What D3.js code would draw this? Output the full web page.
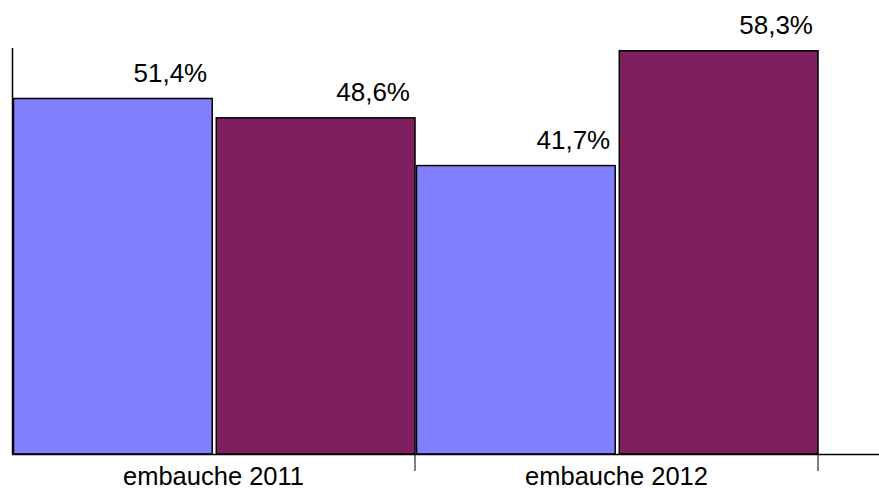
<!DOCTYPE html>
<html>
<head>
<meta charset="utf-8">
<script src="https://cdn.jsdelivr.net/npm/d3@7"></script>
<style>
html,body{margin:0;padding:0;background:#fff;}
svg{display:block;}
text{font-family:"Liberation Sans",Arial,sans-serif;fill:#000;}
</style>
</head>
<body>
<svg id="chart" width="879" height="491"></svg>
<script>
const categories = ["embauche 2011", "embauche 2012"];
const seriesNames = ["Série 1", "Série 2"];
const series1 = [51.4, 41.7];
const series2 = [48.6, 58.3];
const valueLabels1 = ["51,4%", "41,7%"];
const valueLabels2 = ["48,6%", "58,3%"];
const colors = ["#8080ff", "#7f1f5f"];

const W = 879, H = 491;
const svg = d3.select("#chart");

const x = d3.scaleBand().domain(categories).range([12, 818]).padding(0);
const xi = d3.scaleBand().domain(seriesNames).range([1.5, x.bandwidth()]).paddingInner(0.02).paddingOuter(0);
const y = d3.scaleLinear().domain([0, 58.7]).range([454, 48]);

const rows = categories.map((c, i) => ({
  cat: c,
  vals: [
    {s: seriesNames[0], v: series1[i], lab: valueLabels1[i], col: colors[0]},
    {s: seriesNames[1], v: series2[i], lab: valueLabels2[i], col: colors[1]}
  ]
}));

const g = svg.selectAll("g.cat").data(rows).enter().append("g")
  .attr("class", "cat")
  .attr("transform", d => `translate(${x(d.cat)},0)`);

g.selectAll("rect").data(d => d.vals).enter().append("rect")
  .attr("x", d => xi(d.s))
  .attr("y", d => y(d.v))
  .attr("width", xi.bandwidth())
  .attr("height", d => y(0) - y(d.v))
  .attr("fill", d => d.col)
  .attr("stroke", "#000")
  .attr("stroke-width", 1.5);

g.selectAll("text.val").data(d => d.vals).enter().append("text")
  .attr("class", "val")
  .attr("x", d => xi(d.s) + xi.bandwidth() - 5)
  .attr("y", d => y(d.v) - 16.5)
  .attr("text-anchor", "end")
  .attr("font-size", 26)
  .text(d => d.lab);

// y axis line
svg.append("line")
  .attr("x1", 12.5).attr("x2", 12.5)
  .attr("y1", y.range()[1]).attr("y2", y(0))
  .attr("stroke", "#000").attr("stroke-width", 1.5);

// x axis line
svg.append("line")
  .attr("x1", 12).attr("x2", W)
  .attr("y1", y(0) + 0.5).attr("y2", y(0) + 0.5)
  .attr("stroke", "#000").attr("stroke-width", 1.5);

// ticks at category boundaries
svg.selectAll("line.tick").data(categories).enter().append("line")
  .attr("class", "tick")
  .attr("x1", d => x(d) + x.bandwidth()).attr("x2", d => x(d) + x.bandwidth())
  .attr("y1", y(0)).attr("y2", y(0) + 17)
  .attr("stroke", "#000").attr("stroke-width", 1);

svg.selectAll("text.cat").data(categories).enter().append("text")
  .attr("class", "cat")
  .attr("x", d => x(d) + x.bandwidth() / 2)
  .attr("y", 485)
  .attr("text-anchor", "middle")
  .attr("font-size", 25.5)
  .text(d => d);
</script>
</body>
</html>
